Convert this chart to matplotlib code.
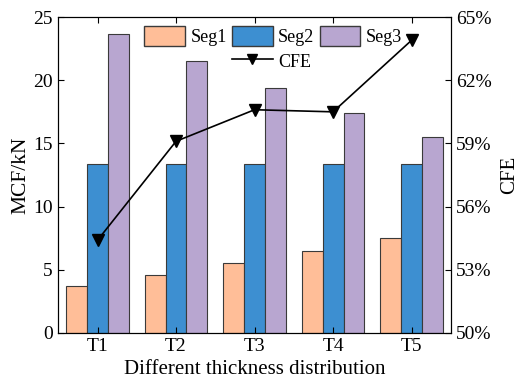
import numpy as np
import matplotlib.pyplot as plt
from matplotlib.patches import Patch
from matplotlib.ticker import FuncFormatter

plt.rcParams['font.family'] = ['Liberation Serif', 'DejaVu Serif']

# data
groups = ['T1', 'T2', 'T3', 'T4', 'T5']
seg1 = [3.7, 4.6, 5.5, 6.45, 7.55]
seg2 = [13.4, 13.4, 13.4, 13.4, 13.4]
seg3 = [23.7, 21.5, 19.4, 17.4, 15.5]
cfe = [54.4, 59.1, 60.6, 60.5, 63.9]

colors = ['#FFBE98', '#3D8FD1', '#B8A6D0']
edge = '#3a3a3a'

fig, ax = plt.subplots(figsize=(5.2, 3.8), dpi=100)
fig.subplots_adjust(left=0.112, right=0.867, bottom=0.124, top=0.955)

x = np.arange(1, len(groups) + 1)
w = 0.8 / 3
ax.bar(x - w, seg1, w, color=colors[0], edgecolor=edge, linewidth=0.8)
ax.bar(x, seg2, w, color=colors[1], edgecolor=edge, linewidth=0.8)
ax.bar(x + w, seg3, w, color=colors[2], edgecolor=edge, linewidth=0.8)

ax.set_xlim(0.5, 5.5)
ax.set_ylim(0, 25)
ax.set_xticks(x)
ax.set_xticklabels(groups)
ax.set_yticks([0, 5, 10, 15, 20, 25])
ax.set_ylabel('MCF/kN', fontsize=15.5, labelpad=2)
ax.set_xlabel('Different thickness distribution', fontsize=15, labelpad=3)
ax.tick_params(direction='in', labelsize=14, top=True, length=4, pad=4)

ax2 = ax.twinx()
ax2.plot(x, cfe, color='black', linewidth=1.2, marker='v', markersize=9)
ax2.set_ylim(50, 65)
ax2.set_yticks([50, 53, 56, 59, 62, 65])
ax2.yaxis.set_major_formatter(FuncFormatter(lambda v, p: f'{v:.0f}%'))
ax2.set_ylabel('CFE', fontsize=15, labelpad=6)
ax2.tick_params(direction='in', labelsize=14, length=4)

handles = [
    Patch(facecolor=colors[0], edgecolor=edge),
    Patch(visible=False),
    Patch(facecolor=colors[1], edgecolor=edge),
    plt.Line2D([], [], color='black', marker='v', markersize=7, linewidth=1.2),
    Patch(facecolor=colors[2], edgecolor=edge),
]
labels = ['Seg1', '', 'Seg2', 'CFE', 'Seg3']
ax2.legend(handles, labels, ncol=3, frameon=False, fontsize=13,
           loc='upper left', bbox_to_anchor=(0.219, 0.972),
           handlelength=2.25, handleheight=1.3, handletextpad=0.3,
           columnspacing=0.3, labelspacing=0.3, borderpad=0,
           borderaxespad=0)

fig.savefig('out.png')
